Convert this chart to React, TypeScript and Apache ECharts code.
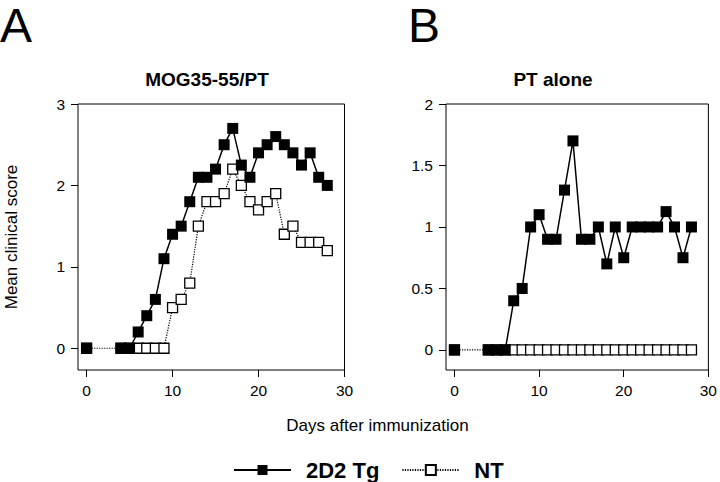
import React, { useEffect, useRef } from 'react';
import * as echarts from 'echarts';

// Panel A: MOG35-55/PT
const daysA = [0, 4, 5, 6, 7, 8, 9, 10, 11, 12, 13, 14, 15, 16, 17, 18, 19, 20, 21, 22, 23, 24, 25, 26, 27, 28];
const tgA = [0, 0, 0, 0.2, 0.4, 0.6, 1.1, 1.4, 1.5, 1.8, 2.1, 2.1, 2.2, 2.5, 2.7, 2.25, 2.1, 2.4, 2.5, 2.6, 2.5, 2.4, 2.25, 2.4, 2.1, 2.0];
const ntA = [0, 0, 0, 0, 0, 0, 0, 0.5, 0.6, 0.8, 1.5, 1.8, 1.8, 1.9, 2.2, 2.0, 1.8, 1.7, 1.8, 1.9, 1.4, 1.5, 1.3, 1.3, 1.3, 1.2];

// Panel B: PT alone
const daysB = [0, 4, 5, 6, 7, 8, 9, 10, 11, 12, 13, 14, 15, 16, 17, 18, 19, 20, 21, 22, 23, 24, 25, 26, 27, 28];
const tgB = [0, 0, 0, 0, 0.4, 0.5, 1.0, 1.1, 0.9, 0.9, 1.3, 1.7, 0.9, 0.9, 1.0, 0.7, 1.0, 0.75, 1.0, 1.0, 1.0, 1.0, 1.125, 1.0, 0.75, 1.0];
const ntB = [0, 0, 0, 0, 0, 0, 0, 0, 0, 0, 0, 0, 0, 0, 0, 0, 0, 0, 0, 0, 0, 0, 0, 0, 0, 0];

const xTicks = [0, 10, 20, 30];
const yTicksA = [0, 1, 2, 3];
const yTicksB = [0, 0.5, 1, 1.5, 2];

const seriesNames = ['2D2 Tg', 'NT'];
const titles = ['MOG35-55/PT', 'PT alone'];
const panelLetters = ['A', 'B'];
const xAxisName = 'Days after immunization';
const yAxisName = 'Mean clinical score';

const FONT = '"Liberation Sans", Arial, Helvetica, sans-serif';

// solid line of 2D2 Tg is not drawn between its first two points (only the NT dotted line is visible there)
function withGap(days: number[], vals: number[]) {
  const out: any[] = [];
  days.forEach((d, i) => {
    if (i === 1) out.push([(days[0] + days[1]) / 2, '-']);
    out.push([d, vals[i]]);
  });
  return out;
}
function pairs(days: number[], vals: number[]) {
  return days.map((d, i) => [d, vals[i]]);
}

export default function App() {
  const ref = useRef<HTMLDivElement>(null);
  useEffect(() => {
    if (!ref.current) return;
    const chart = echarts.init(ref.current, undefined, { renderer: 'svg' });

    const gridBase = { show: true, borderColor: '#000', borderWidth: 1, backgroundColor: 'transparent', containLabel: false };
    const xAxisBase = (gi: number) => ({
      type: 'value', gridIndex: gi, min: -1, max: 30, position: 'bottom',
      axisLine: { show: false, onZero: false },
      axisTick: { show: true, inside: false, length: 7, customValues: xTicks, lineStyle: { color: '#000', width: 1 } },
      axisLabel: { customValues: xTicks, margin: 12, fontSize: 15.5, color: '#000', fontFamily: FONT },
      splitLine: { show: false },
    });
    const yAxisBase = (gi: number, min: number, max: number, ticks: number[]) => ({
      type: 'value', gridIndex: gi, min, max, position: 'left',
      axisLine: { show: false, onZero: false },
      axisTick: { show: true, inside: false, length: 7, customValues: ticks, lineStyle: { color: '#000', width: 1 } },
      axisLabel: { customValues: ticks, margin: 13, fontSize: 15.5, color: '#000', fontFamily: FONT },
      splitLine: { show: false },
    });

    const tgStyle = (xi: number, data: any[]) => ({
      name: seriesNames[0], type: 'line', xAxisIndex: xi, yAxisIndex: xi, data,
      symbol: 'rect', symbolSize: 11, z: 3,
      connectNulls: false,
      lineStyle: { color: '#000', width: 1.5, type: 'solid' },
      itemStyle: { color: '#000', borderColor: '#000', borderWidth: 0 },
      emphasis: { disabled: true },
    });
    const ntStyle = (xi: number, data: any[]) => ({
      name: seriesNames[1], type: 'line', xAxisIndex: xi, yAxisIndex: xi, data,
      symbol: 'rect', symbolSize: 10, z: 2,
      lineStyle: { color: '#000', width: 1.2, type: [1.2, 1.3] },
      itemStyle: { color: '#fff', borderColor: '#000', borderWidth: 1.3 },
      emphasis: { disabled: true },
    });

    const yA = yAxisBase(0, -0.267, 3, yTicksA) as any;
    yA.name = yAxisName;
    yA.nameLocation = 'middle';
    yA.nameGap = 58;
    yA.nameTextStyle = { fontSize: 17, color: '#000', fontFamily: FONT };

    const option: any = {
      animation: false,
      textStyle: { fontFamily: FONT },
      title: [
        { text: panelLetters[0], left: 0, top: 1, padding: 0, textStyle: { fontSize: 48, fontWeight: 'normal', color: '#000', fontFamily: FONT } },
        { text: panelLetters[1], left: 408, top: 1, padding: 0, textStyle: { fontSize: 48, fontWeight: 'normal', color: '#000', fontFamily: FONT } },
        { text: titles[0], left: 207, top: 70, textAlign: 'center', padding: 0, textStyle: { fontSize: 19, fontWeight: 'bold', color: '#000', fontFamily: FONT } },
        { text: titles[1], left: 553, top: 70, textAlign: 'center', padding: 0, textStyle: { fontSize: 19, fontWeight: 'bold', color: '#000', fontFamily: FONT } },
      ],
      grid: [
        { ...gridBase, left: 78, top: 104, width: 266.5, height: 266 },
        { ...gridBase, left: 446, top: 104, width: 267.5, height: 266 },
      ],
      xAxis: [xAxisBase(0), xAxisBase(1)],
      yAxis: [yA, yAxisBase(1, -0.163, 2, yTicksB)],
      legend: {
        data: seriesNames, left: 233, top: 459, padding: 0,
        itemWidth: 57, itemHeight: 12.5, itemGap: 22,
        textStyle: { fontSize: 22, fontWeight: 'bold', color: '#000', fontFamily: FONT, padding: [0, 0, 0, 10] },
        selectedMode: false,
      },
      graphic: [
        {
          type: 'text', x: 377.5, y: 425,
          style: { text: xAxisName, fontSize: 17, fontFamily: FONT, fill: '#000', align: 'center', verticalAlign: 'middle' },
        },
      ],
      series: [
        tgStyle(0, withGap(daysA, tgA)),
        ntStyle(0, pairs(daysA, ntA)),
        tgStyle(1, withGap(daysB, tgB)),
        ntStyle(1, pairs(daysB, ntB)),
      ],
    };
    chart.setOption(option);
    return () => chart.dispose();
  }, []);
  return <div ref={ref} style={{ position: 'fixed', left: 0, top: 0, width: 720, height: 482, background: '#fff' }} />;
}
